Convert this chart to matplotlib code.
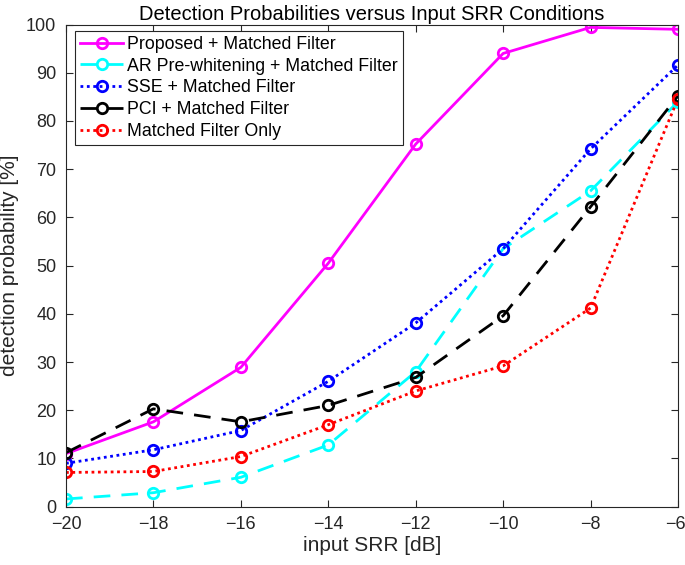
import matplotlib
matplotlib.use("Agg")
import matplotlib.pyplot as plt
from matplotlib.transforms import ScaledTranslation

snr = [-20, -18, -16, -14, -12, -10, -8, -6]
proposed = [11.0, 17.6, 28.9, 50.5, 75.2, 94.0, 99.4, 99.0]
ar_prewhite = [1.6, 2.9, 6.1, 12.8, 28.0, 53.5, 65.5, 84.0]
sse = [9.0, 11.8, 15.8, 26.0, 38.1, 53.5, 74.2, 91.6]
pci = [11.2, 20.3, 17.6, 21.0, 26.8, 39.6, 62.2, 85.2]
mf_only = [7.1, 7.3, 10.4, 17.0, 24.0, 29.2, 41.2, 84.6]

labels = ["Proposed + Matched Filter", "AR Pre-whitening + Matched Filter",
          "SSE + Matched Filter", "PCI + Matched Filter", "Matched Filter Only"]
series = [proposed, ar_prewhite, sse, pci, mf_only]
colors = ["#ff00ff", "#00ffff", "#0000ff", "#000000", "#ff0000"]
styles = ["-", (0, (6, 4)), (0, (1, 1.3)), (0, (6, 4)), (0, (1, 1.3))]

plt.rcParams['font.family'] = ['Liberation Sans', 'DejaVu Sans']

W, H = 685, 565
fig = plt.figure(figsize=(W / 100, H / 100), dpi=100)
left, right, top, bottom = 66, 678, 24.5, 506.7
ax = fig.add_axes([left / W, 1 - bottom / H, (right - left) / W, (bottom - top) / H])

for y, lab, c, ls in zip(series, labels, colors, styles):
    ax.plot(snr, y, linestyle=ls, color=c, linewidth=2.0, marker='o',
            markersize=7.5, markerfacecolor='none', markeredgecolor=c,
            markeredgewidth=2.0, label=lab)

ax.set_xlim(-20, -6)
ax.set_ylim(0, 100)
ax.set_xticks(snr)
ax.set_yticks(range(0, 101, 10))
ax.tick_params(direction='in', length=5, width=0.8, colors='#262626',
               labelsize=13, top=True, right=True, pad=7)
for sp in ax.spines.values():
    sp.set_color('#262626')
    sp.set_linewidth(0.8)
ax.set_xlabel("input SRR [dB]", fontsize=15, color='#262626', labelpad=2)
ax.set_ylabel("detection probability [%]", fontsize=15, color='#262626', labelpad=5)
ax.set_title("Detection Probabilities versus Input SRR Conditions", fontsize=14.5,
             color='black', pad=3)

leg = ax.legend(loc='upper left', fontsize=12.8, frameon=True, fancybox=False,
                edgecolor='#262626', framealpha=1, borderpad=0.3,
                labelspacing=0.27, handlelength=2.4, handletextpad=0.2,
                borderaxespad=0, bbox_to_anchor=(9 / (right - left), 1 - 6 / (bottom - top)))
leg.get_frame().set_linewidth(0.8)

# keep the last x tick label inside the canvas, as in the reference
last = ax.xaxis.get_major_ticks()[-1].label1
last.set_transform(last.get_transform() + ScaledTranslation(-2.5 / 100, 0, fig.dpi_scale_trans))

fig.savefig("out.png", dpi=100)
